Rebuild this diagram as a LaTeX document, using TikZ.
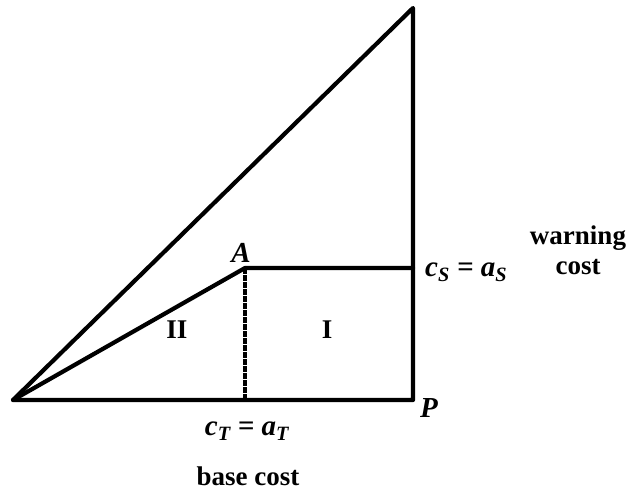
\documentclass[tikz,border=0pt]{standalone}
\usepackage{fontspec}
\setmainfont{Liberation Serif}
\begin{document}
\begin{tikzpicture}[x=1pt, y=-1pt]
  \tikzset{
    edge/.style={line width=4.2pt, line join=round, line cap=round},
    dropline/.style={line width=3.4pt, dash pattern=on 6pt off 1pt},
    lbl/.style={font=\bfseries\fontsize{27}{30}\selectfont, inner sep=0pt},
    mlbl/.style={font=\bfseries\itshape\fontsize{29}{30}\selectfont, inner sep=0pt},
  }
  \useasboundingbox (0,0) rectangle (629,492);
  %
  % corners
  \coordinate (O) at (13,400);
  \coordinate (P) at (413,400);
  \coordinate (T) at (413,8);
  \coordinate (A) at (245,268);
  \coordinate (S) at (413,268);
  \coordinate (B) at (245,400);
  %
  % lines
  \draw[edge] (O) -- (T) -- (P) -- cycle;
  \draw[edge] (O) -- (A) -- (S);
  \draw[dropline] (A) -- (B);
  %
  % labels
  \node[mlbl] (Alab) at (241,253) {A};
  \node[mlbl] (Plab) at (429,408) {P};
  \node[mlbl, anchor=west] (cs) at (425,272) {c\textsubscript{S} = a\textsubscript{S}};
  \node[mlbl] (ct) at (247,431) {c\textsubscript{T} = a\textsubscript{T}};
  \node[lbl, align=center] (warn) at (578,250) {warning\\cost};
  \node[lbl] (base) at (248,476) {base cost};
  \node[lbl] (two) at (177,330) {II};
  \node[lbl] (one) at (327,330) {I};
\end{tikzpicture}
\end{document}
